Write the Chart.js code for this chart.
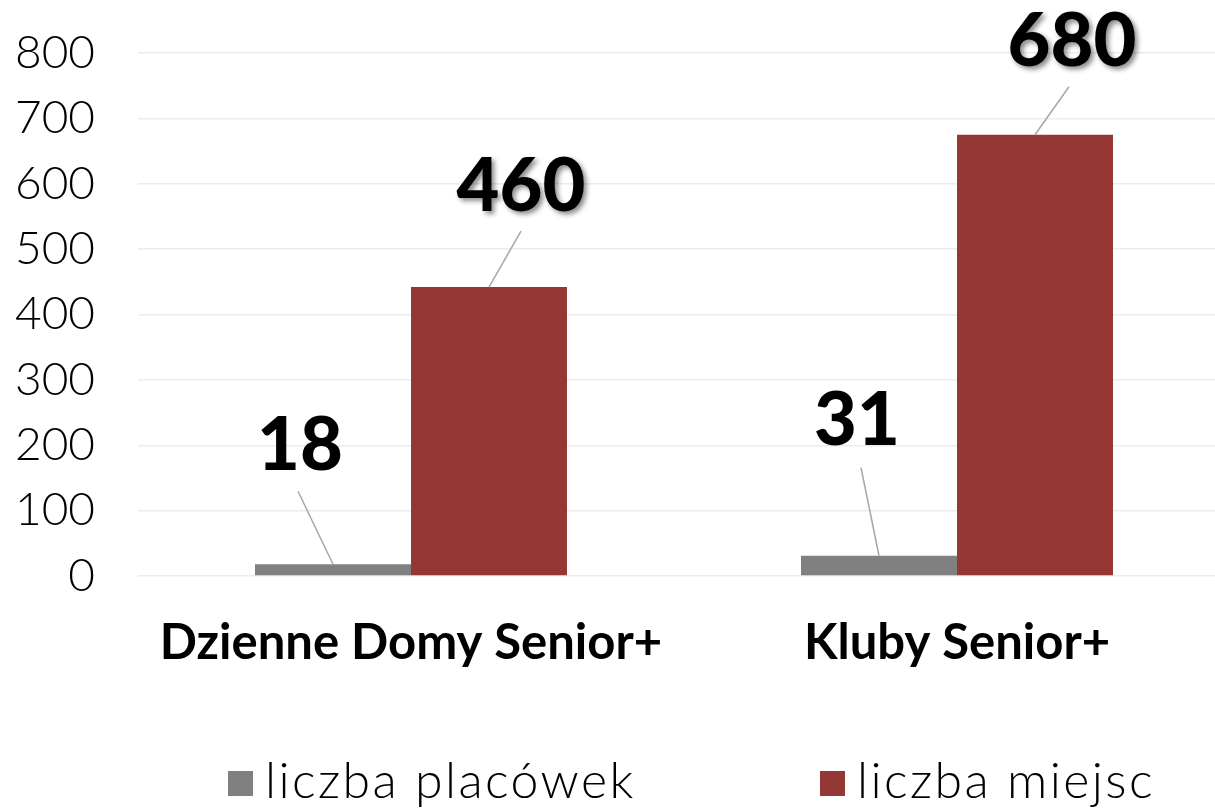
<!DOCTYPE html>
<html>
<head>
<meta charset="utf-8">
<script src="https://cdn.jsdelivr.net/npm/chart.js@4"></script>
<style>
  html, body { margin: 0; padding: 0; background: #fff; overflow: hidden; }
  #wrap { position: relative; width: 1376px; height: 811px; }
  #legend { position: absolute; top: 0; left: 0; font-family: Lato, sans-serif; font-weight: 300; font-size: 50px; letter-spacing: 2.4px; color: #000; }
  #legend .item { position: absolute; top: 749px; display: flex; align-items: center; white-space: nowrap; }
  #legend .box { width: 25px; height: 25px; margin-right: 12px; margin-top: 8px; }
</style>
</head>
<body>
<div id="wrap">
  <canvas id="chart"></canvas>
  <div id="legend"></div>
</div>
<script>
// categories and series
const categories = ['Dzienne Domy Senior+', 'Kluby Senior+'];
const seriesNames = ['liczba placówek', 'liczba miejsc'];
const placowki = [18, 31];
const miejsca = [442, 675];
// labels as printed above the bars
const placowkiLabels = ['18', '31'];
const miejscaLabels = ['460', '680'];
const yTicks = [0, 100, 200, 300, 400, 500, 600, 700, 800];

const colors = ['#808080', '#953735'];
const legendLeft = [228, 820];

// label centre and leader end, relative to the top centre of each bar
const labelPlacement = [
    [{ dx: -33, dy: -118, lx: -35, ly: -73 }, { dx: -22, dy: -135, lx: -18, ly: -88 }],
    [{ dx: 32, dy: -100, lx: 32, ly: -56 }, { dx: 37, dy: -93, lx: 34, ly: -48 }]
];
const labelTexts = [placowkiLabels, miejscaLabels];

const valueLabels = {
    id: 'valueLabels',
    afterDatasetsDraw(chart) {
        const ctx = chart.ctx;
        chart.data.datasets.forEach((ds, i) => {
            chart.getDatasetMeta(i).data.forEach((bar, j) => {
                const p = labelPlacement[i][j];
                ctx.save();
                ctx.strokeStyle = '#a6a6a6';
                ctx.lineWidth = 1.5;
                ctx.beginPath();
                ctx.moveTo(bar.x, bar.y);
                ctx.lineTo(bar.x + p.lx, bar.y + p.ly);
                ctx.stroke();
                ctx.font = '900 74px Lato, sans-serif';
                ctx.textAlign = 'center';
                ctx.textBaseline = 'middle';
                if (i === 1) {
                    ctx.shadowColor = 'rgba(0,0,0,0.45)';
                    ctx.shadowBlur = 5;
                    ctx.shadowOffsetX = 3;
                    ctx.shadowOffsetY = 3;
                }
                ctx.fillStyle = '#000';
                ctx.fillText(labelTexts[i][j], bar.x + p.dx, bar.y + p.dy);
                ctx.restore();
            });
        });
    }
};

const ctx = document.getElementById('chart').getContext('2d');
new Chart(ctx, {
    type: 'bar',
    data: {
        labels: categories,
        datasets: [
            { label: seriesNames[0], data: placowki, backgroundColor: colors[0] },
            { label: seriesNames[1], data: miejsca, backgroundColor: colors[1] }
        ]
    },
    options: {
        responsive: true,
        maintainAspectRatio: false,
        animation: false,
        layout: { padding: { top: 53, right: 146, bottom: 0, left: 0 } },
        datasets: { bar: { barPercentage: 1, categoryPercentage: 0.5714 } },
        plugins: {
            legend: { display: false },
            tooltip: { enabled: false }
        },
        scales: {
            x: {
                grid: { display: false },
                border: { display: false },
                ticks: {
                    color: '#000',
                    padding: 30,
                    font: { family: 'Lato, sans-serif', size: 49, weight: 'bold' }
                },
                afterFit: (scale) => { scale.height = 811 - 576; }
            },
            y: {
                min: 0,
                max: 800,
                afterBuildTicks: (scale) => { scale.ticks = yTicks.map(v => ({ value: v })); },
                grid: { color: '#ececec', lineWidth: 1.5, drawTicks: false },
                border: { display: false },
                ticks: {
                    color: '#000',
                    padding: 43,
                    font: { family: 'Lato, sans-serif', size: 46, weight: 300 }
                },
                afterFit: (scale) => {
                    scale.width = 138;
                    scale.paddingTop = 0;
                    scale.paddingBottom = 0;
                }
            }
        }
    },
    plugins: [valueLabels]
});

// legend
const legend = document.getElementById('legend');
seriesNames.forEach((name, i) => {
    const item = document.createElement('div');
    item.className = 'item';
    item.style.left = legendLeft[i] + 'px';
    item.innerHTML = `<span class="box" style="background:${colors[i]}"></span><span>${name}</span>`;
    legend.appendChild(item);
});
</script>
</body>
</html>
